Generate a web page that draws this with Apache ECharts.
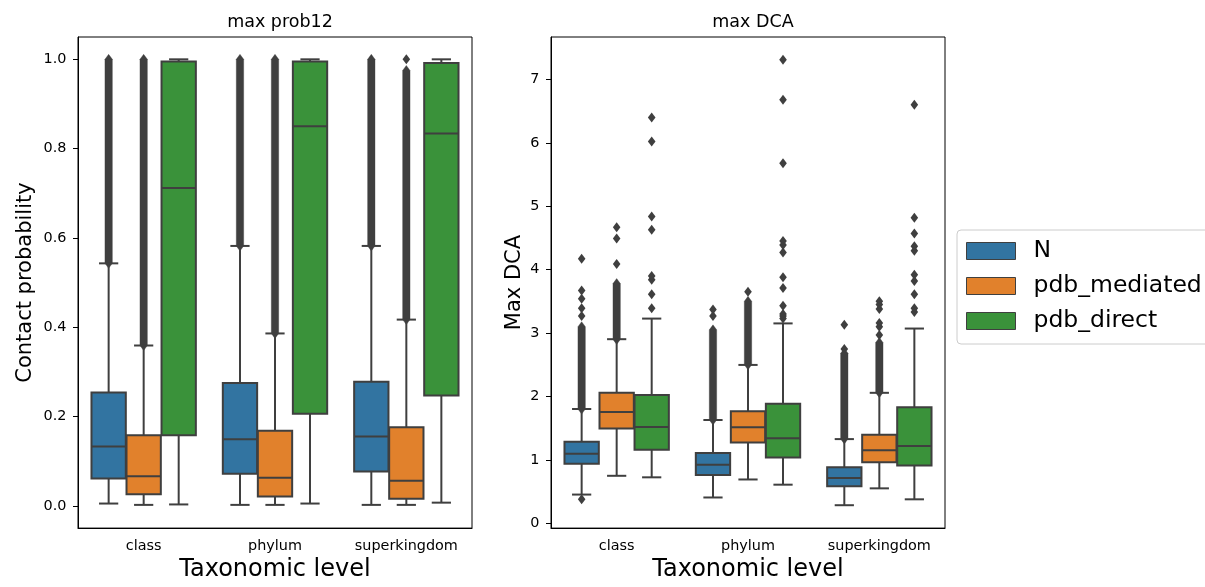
<!DOCTYPE html>
<html>
<head>
<meta charset="utf-8">
<script src="https://cdn.jsdelivr.net/npm/echarts@6/dist/echarts.min.js"></script>
<style>
  html, body { margin: 0; padding: 0; background: #fff; }
  #chart { width: 1205px; height: 587px; }
</style>
</head>
<body>
<div id="chart"></div>
<script>
// categories / hues
var categories = ['class', 'phylum', 'superkingdom'];
var hues = ['N', 'pdb_mediated', 'pdb_direct'];
var hueColors = ['#3274a1', '#e1812c', '#3a923a'];

// max prob12 : [low whisker, Q1, median, Q3, high whisker] per category
var probN   = [[0.005, 0.061, 0.133, 0.254, 0.543], [0.002, 0.072, 0.149, 0.275, 0.582], [0.002, 0.077, 0.155, 0.278, 0.582]];
var probMed = [[0.002, 0.026, 0.066, 0.158, 0.359], [0.002, 0.021, 0.063, 0.168, 0.386], [0.002, 0.016, 0.056, 0.176, 0.417]];
var probDir = [[0.003, 0.158, 0.712, 0.995, 1.0], [0.005, 0.206, 0.850, 0.995, 1.0], [0.007, 0.247, 0.834, 0.992, 1.0]];
// runs of dense outliers [from, to]
var probNDense   = [[0.543, 1.0], [0.582, 1.0], [0.582, 1.0]];
var probMedDense = [[0.359, 1.0], [0.386, 1.0], [0.417, 0.975]];
var probDirDense = [null, null, null];
// single outliers
var probNOut   = [[], [], []];
var probMedOut = [[], [], [1.0]];
var probDirOut = [[], [], []];

// max DCA
var dcaN   = [[0.452, 0.939, 1.095, 1.286, 1.802], [0.406, 0.759, 0.921, 1.107, 1.628], [0.284, 0.585, 0.713, 0.881, 1.327]];
var dcaMed = [[0.748, 1.495, 1.756, 2.057, 2.903], [0.690, 1.275, 1.512, 1.767, 2.497], [0.550, 0.962, 1.153, 1.397, 2.057]];
var dcaDir = [[0.724, 1.159, 1.518, 2.022, 3.228], [0.608, 1.037, 1.339, 1.883, 3.152], [0.377, 0.910, 1.217, 1.831, 3.071]];
var dcaNDense   = [[1.80, 3.10], [1.63, 3.05], [1.33, 2.68]];
var dcaMedDense = [[2.90, 3.78], [2.50, 3.50], [2.06, 2.85]];
var dcaDirDense = [null, null, null];
var dcaNOut   = [[0.38, 3.27, 3.39, 3.54, 3.67, 4.17], [3.27, 3.37], [2.75, 3.13]];
var dcaMedOut = [[4.09, 4.49, 4.67], [3.65], [2.97, 3.10, 3.16, 3.38, 3.45, 3.50]];
var dcaDirOut = [[3.39, 3.61, 3.84, 3.90, 4.63, 4.84, 6.02, 6.40],
                 [3.23, 3.27, 3.30, 3.43, 3.71, 3.88, 4.27, 4.39, 4.45, 5.68, 6.68, 7.31],
                 [3.33, 3.39, 3.61, 3.82, 3.92, 4.30, 4.37, 4.57, 4.82, 6.60]];

// tick labels
var probTicks = [0, 0.2, 0.4, 0.6, 0.8, 1.0];
var dcaTicks = [0, 1, 2, 3, 4, 5, 6, 7];

var lineColor = '#3f3f3f';
var font = 'DejaVu Sans';

function hueCenter(api, cat, hue) {
  var band = api.size([1, 0])[0];
  var step = band * 0.8 / 3;
  return { cx: api.coord([cat, 0])[0] + (hue - 1) * step, w: step * 0.98 };
}

function boxRender(hue) {
  return function (params, api) {
    var cat = api.value(0);
    var c = hueCenter(api, cat, hue);
    var cx = c.cx, w = c.w, cap = w * 0.28;
    var y = [1, 2, 3, 4, 5].map(function (i) { return api.coord([cat, api.value(i)])[1]; });
    var st = { stroke: lineColor, lineWidth: 2 };
    return {
      type: 'group',
      children: [
        { type: 'line', shape: { x1: cx, y1: y[0], x2: cx, y2: y[1] }, style: st },
        { type: 'line', shape: { x1: cx, y1: y[3], x2: cx, y2: y[4] }, style: st },
        { type: 'line', shape: { x1: cx - cap, y1: y[0], x2: cx + cap, y2: y[0] }, style: st },
        { type: 'line', shape: { x1: cx - cap, y1: y[4], x2: cx + cap, y2: y[4] }, style: st },
        { type: 'rect', shape: { x: cx - w / 2, y: y[3], width: w, height: y[1] - y[3] },
          style: { fill: api.visual('color'), stroke: lineColor, lineWidth: 2 } },
        { type: 'line', shape: { x1: cx - w / 2, y1: y[2], x2: cx + w / 2, y2: y[2] }, style: st }
      ]
    };
  };
}

// dense outliers drawn as a run of overlapping diamonds
function denseRender(hue) {
  return function (params, api) {
    var cat = api.value(0);
    var cx = hueCenter(api, cat, hue).cx;
    var lo = api.coord([cat, api.value(1)])[1];
    var hi = api.coord([cat, api.value(2)])[1];
    var hw = 3.7, hh = 5;
    return {
      type: 'polygon',
      shape: { points: [[cx, hi - hh], [cx + hw, hi], [cx + hw, lo], [cx, lo + hh], [cx - hw, lo], [cx - hw, hi]] },
      style: { fill: lineColor, stroke: 'rgba(63,63,63,0.35)', lineWidth: 1 }
    };
  };
}

function outRender(hue) {
  return function (params, api) {
    var cat = api.value(0);
    var cx = hueCenter(api, cat, hue).cx;
    var cy = api.coord([cat, api.value(1)])[1];
    var hw = 3.8, hh = 5;
    return {
      type: 'polygon',
      shape: { points: [[cx, cy - hh], [cx + hw, cy], [cx, cy + hh], [cx - hw, cy]] },
      style: { fill: lineColor }
    };
  };
}

function panelSeries(idx, boxes, dense, outs) {
  var list = [];
  hues.forEach(function (name, h) {
    var dd = [];
    dense[h].forEach(function (r, c) { if (r) dd.push([c, r[0], r[1]]); });
    list.push({
      type: 'custom', xAxisIndex: idx, yAxisIndex: idx, z: 2,
      renderItem: denseRender(h), data: dd, encode: { x: 0, y: [1, 2] }, silent: true
    });
    var od = [];
    outs[h].forEach(function (arr, c) { arr.forEach(function (v) { od.push([c, v]); }); });
    list.push({
      type: 'custom', xAxisIndex: idx, yAxisIndex: idx, z: 2,
      renderItem: outRender(h), data: od, encode: { x: 0, y: 1 }, silent: true
    });
    list.push({
      type: 'custom', name: name, xAxisIndex: idx, yAxisIndex: idx, z: 3,
      itemStyle: { color: hueColors[h] },
      renderItem: boxRender(h),
      data: boxes[h].map(function (b, c) { return [c].concat(b); }),
      encode: { x: 0, y: [1, 2, 3, 4, 5] }
    });
  });
  return list;
}

function xAxis(idx) {
  return {
    type: 'category', gridIndex: idx, data: categories,
    name: 'Taxonomic level', nameLocation: 'middle', nameGap: 28,
    nameTextStyle: { fontFamily: font, fontSize: 24, color: '#000' },
    axisLine: { onZero: false, lineStyle: { color: '#000', width: 1 } },
    axisTick: { alignWithLabel: true, length: 5, lineStyle: { color: '#000' } },
    axisLabel: { interval: 0, fontFamily: font, fontSize: 14.4, color: '#000', margin: 11 },
    splitLine: { show: false }
  };
}

function yAxis(idx, min, max, ticks, label, gap, fmt) {
  return {
    type: 'value', gridIndex: idx, min: min, max: max,
    name: label, nameLocation: 'middle', nameGap: gap,
    nameTextStyle: { fontFamily: font, fontSize: 21, color: '#000' },
    axisLine: { show: true, onZero: false, lineStyle: { color: '#000', width: 1 } },
    axisTick: { show: true, length: 5, customValues: ticks, lineStyle: { color: '#000' } },
    axisLabel: { fontFamily: font, fontSize: 14.4, color: '#000', margin: 11.5, customValues: ticks, formatter: fmt },
    splitLine: { show: false }
  };
}

var chart = echarts.init(document.getElementById('chart'));
chart.setOption({
  backgroundColor: '#fff',
  animation: false,
  title: [
    { text: 'max prob12', left: 275, top: 8, textAlign: 'center',
      textStyle: { fontFamily: font, fontSize: 17.5, fontWeight: 'normal', color: '#000' } },
    { text: 'max DCA', left: 748, top: 8, textAlign: 'center',
      textStyle: { fontFamily: font, fontSize: 17.5, fontWeight: 'normal', color: '#000' } }
  ],
  legend: {
    orient: 'vertical', left: 957, top: 230,
    data: hues, icon: 'rect', itemWidth: 49, itemHeight: 17, itemGap: 11,
    padding: [9, 40, 11, 9],
    backgroundColor: '#fff', borderColor: '#cccccc', borderWidth: 1, borderRadius: 4,
    itemStyle: { borderColor: lineColor, borderWidth: 1 },
    textStyle: { fontFamily: font, fontSize: 23.5, color: '#000', lineHeight: 24, padding: [0, 0, 0, 13] },
    selectedMode: false
  },
  grid: [
    { left: 78, top: 37, width: 394, height: 500, show: true, borderColor: '#000', borderWidth: 1 },
    { left: 551, top: 37, width: 394, height: 500, show: true, borderColor: '#000', borderWidth: 1 }
  ],
  xAxis: [xAxis(0), xAxis(1)],
  yAxis: [
    yAxis(0, -0.05, 1.05, probTicks, 'Contact probability', 42, function (v) { return v.toFixed(1); }),
    yAxis(1, -0.077, 7.67, dcaTicks, 'Max DCA', 26, function (v) { return String(v); })
  ],
  series: [].concat(
    panelSeries(0, [probN, probMed, probDir], [probNDense, probMedDense, probDirDense], [probNOut, probMedOut, probDirOut]),
    panelSeries(1, [dcaN, dcaMed, dcaDir], [dcaNDense, dcaMedDense, dcaDirDense], [dcaNOut, dcaMedOut, dcaDirOut])
  )
});
</script>
</body>
</html>
